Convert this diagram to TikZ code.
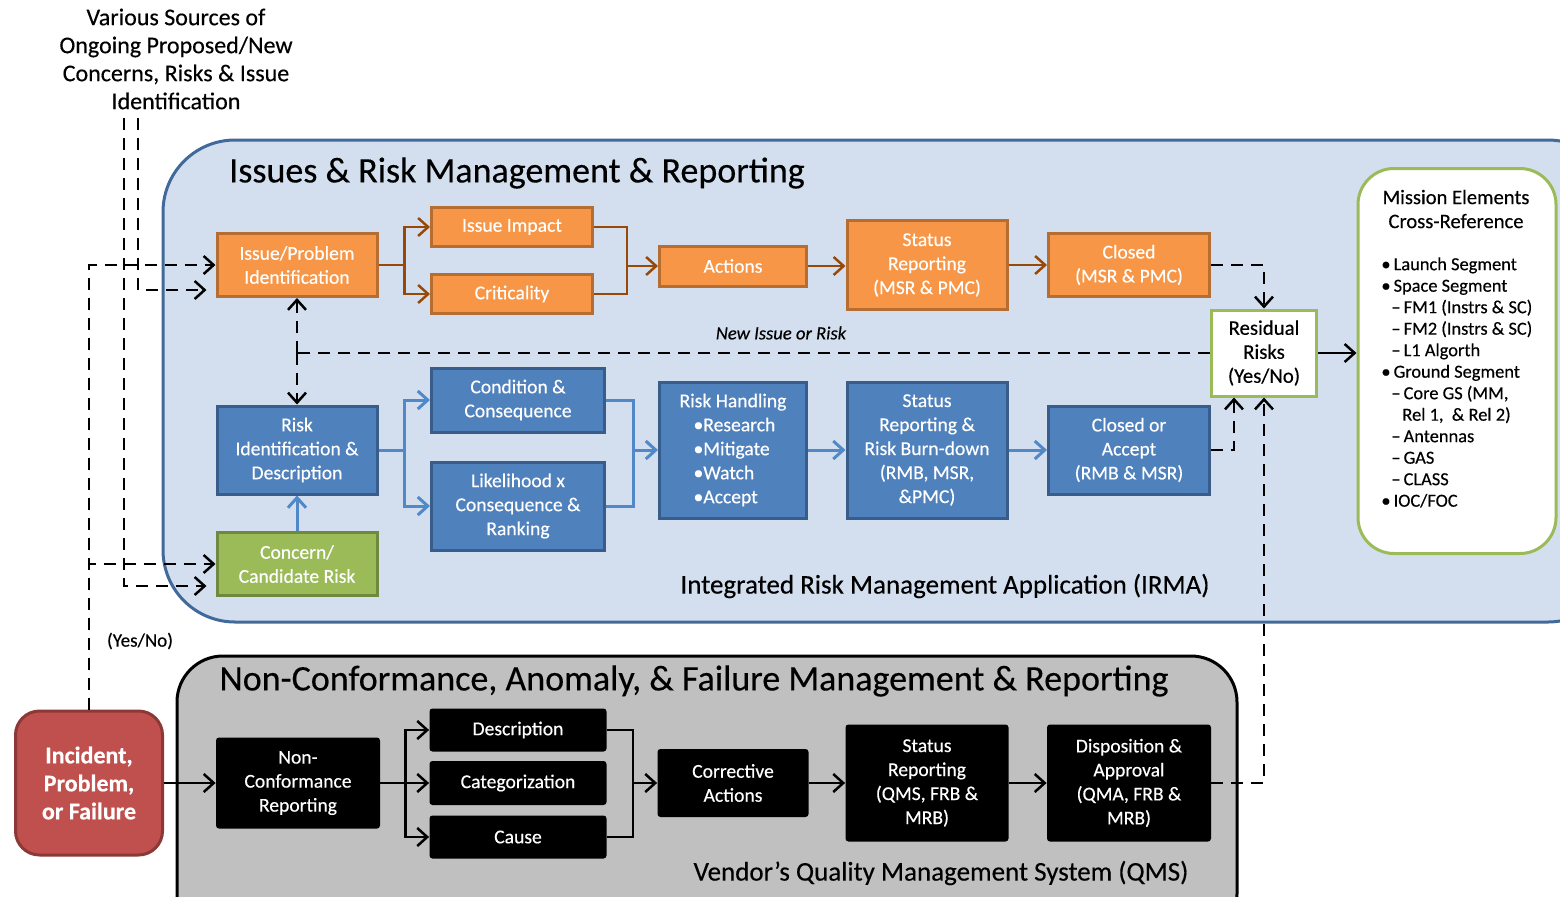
\documentclass[tikz,border=0pt]{standalone}
\usepackage{fontspec}
\setmainfont{Carlito}[FakeBold=0.35]
\usetikzlibrary{arrows.meta}
\definecolor{regionblue}{HTML}{D3DFEE}
\definecolor{regionblueline}{HTML}{41699A}
\definecolor{orangefill}{HTML}{F79646}
\definecolor{orangeedge}{HTML}{B66D31}
\definecolor{orangewire}{HTML}{984807}
\definecolor{bluefill}{HTML}{4F81BD}
\definecolor{blueedge}{HTML}{385D8A}
\definecolor{bluewire}{HTML}{5088C8}
\definecolor{greenfill}{HTML}{9BBB59}
\definecolor{greenedge}{HTML}{71893F}
\definecolor{regiongray}{HTML}{C0C0C0}
\definecolor{redfill}{HTML}{C0504D}
\definecolor{rededge}{HTML}{8C3836}
\tikzset{
	boxstyle/.style={rectangle,align=center,text=white,inner sep=1pt,font=\fontsize{9.8}{12}\selectfont},
	orangestyle/.style={boxstyle,draw=orangeedge,line width=1.5pt,fill=orangefill},
	bluestyle/.style={boxstyle,draw=blueedge,line width=1.5pt,fill=bluefill},
	greenstyle/.style={boxstyle,draw=greenedge,line width=1.5pt,fill=greenfill},
	blackstyle/.style={boxstyle,fill=black,rounded corners=1.5pt},
	residualstyle/.style={boxstyle,text=black,draw=greenfill,line width=1.5pt,fill=white,font=\fontsize{10.4}{12}\selectfont},
	tipstyle/.style={-{Straight Barb[length=5pt,width=9pt]}},
	orangeline/.style={draw=orangewire,line width=1.25pt,tipstyle},
	blueline/.style={draw=bluewire,line width=1.5pt,tipstyle},
	blackline/.style={draw=black,line width=1.25pt,tipstyle},
	dashline/.style={draw=black,line width=1.25pt,dash pattern=on 6pt off 4pt,tipstyle}
}
\begin{document}
\begin{tikzpicture}[x=0.5pt,y=-0.5pt]
	\useasboundingbox (0,0) rectangle (1560,896);
	\clip (0,0) rectangle (1560,896);
	% regions
	\draw[fill=regionblue,draw=regionblueline,line width=1.5pt,rounded corners=36pt] (163,140) rectangle (1620,622);
	\draw[fill=regiongray,draw=black,line width=1.5pt,rounded corners=23pt] (177,656) rectangle (1237,940);
	\node[font=\fontsize{18}{21}\selectfont] (t1) at (517,173) {Issues \& Risk Management \& Reporting};
	\node[font=\fontsize{18}{21}\selectfont] (t2) at (694,681) {Non-Conformance, Anomaly, \& Failure Management \& Reporting};
	\node[font=\fontsize{13.5}{16}\selectfont] (irma) at (945,586) {Integrated Risk Management Application (IRMA)};
	\node[font=\fontsize{13.5}{16}\selectfont] (qms) at (941,873) {Vendor’s Quality Management System (QMS)};
	\node[align=center,font=\fontsize{12}{14}\selectfont] (src) at (176,59) {Various Sources of\\Ongoing Proposed/New\\Concerns, Risks \& Issue\\Identification};
	% orange row
	\node[orangestyle,minimum width=80pt,minimum height=31.5pt] (ipi) at (297,265) {Issue/Problem\\Identification};
	\node[orangestyle,minimum width=80.5pt,minimum height=19.5pt] (imp) at (512,227) {Issue Impact};
	\node[orangestyle,minimum width=80.5pt,minimum height=19.5pt] (crit) at (512,294) {Criticality};
	\node[orangestyle,minimum width=73.5pt,minimum height=20pt] (act) at (733,266) {Actions};
	\node[orangestyle,minimum width=80pt,minimum height=44.5pt] (stat) at (927,265) {Status\\Reporting\\(MSR \& PMC)};
	\node[orangestyle,minimum width=80.5pt,minimum height=31.5pt] (clo) at (1129,265) {Closed\\(MSR \& PMC)};
	% blue row
	\node[bluestyle,minimum width=80pt,minimum height=44pt] (rid) at (297,450) {Risk\\Identification \&\\Description};
	\node[bluestyle,minimum width=86.5pt,minimum height=32pt] (cc) at (518,400) {Condition \&\\Consequence};
	\node[bluestyle,minimum width=86.5pt,minimum height=44pt] (lcr) at (518,506) {Likelihood x\\Consequence \&\\Ranking};
	\node[bluestyle,minimum width=73.5pt,minimum height=68pt,align=left] (rh) at (733,450) {Risk Handling\\\hspace*{7pt}•Research\\\hspace*{7pt}•Mitigate\\\hspace*{7pt}•Watch\\\hspace*{7pt}•Accept};
	\node[bluestyle,minimum width=80pt,minimum height=68pt] (srb) at (927,450) {Status\\Reporting \&\\Risk Burn-down\\(RMB, MSR,\\\&PMC)};
	\node[bluestyle,minimum width=80.5pt,minimum height=44pt] (coa) at (1129,450) {Closed or\\Accept\\(RMB \& MSR)};
	\node[greenstyle,minimum width=80pt,minimum height=31.5pt] (ccr) at (297,564) {Concern/\\Candidate Risk};
	\node[residualstyle,minimum width=52.5pt,minimum height=43pt] (res) at (1264,353) {Residual\\Risks\\(Yes/No)};
	% mission elements
	\node[draw=greenfill,line width=1.5pt,fill=white,rounded corners=18pt,minimum width=99pt,minimum height=192.5pt] (mis) at (1457,361) {};
	\node[align=center,font=\fontsize{10.3}{12}\selectfont] (mhead) at (1456,209) {Mission Elements\\Cross-Reference};
	\node[align=left,anchor=north west,inner sep=0pt,font=\fontsize{9.2}{10.75}\selectfont] (mlist) at (1381,257) {%
		•\,Launch Segment\\
		•\,Space Segment\\
		\hspace*{5pt}–\,FM1 (Instrs \& SC)\\
		\hspace*{5pt}–\,FM2 (Instrs \& SC)\\
		\hspace*{5pt}–\,L1 Algorth\\
		•\,Ground Segment\\
		\hspace*{5pt}–\,Core GS (MM,\\
		\hspace*{10.5pt}Rel 1,\ \ \& Rel 2)\\
		\hspace*{5pt}–\,Antennas\\
		\hspace*{5pt}–\,GAS\\
		\hspace*{5pt}–\,CLASS\\
		•\,IOC/FOC};
	% black row
	\node[draw=rededge,line width=1.5pt,fill=redfill,rounded corners=12pt,minimum width=73.5pt,minimum height=72pt,align=center,text=white,font=\bfseries\fontsize{12}{14}\selectfont] (inc) at (89,783) {Incident,\\Problem,\\or Failure};
	\node[blackstyle,minimum width=82pt,minimum height=45.5pt] (ncr) at (298,783) {Non-\\Conformance\\Reporting};
	\node[blackstyle,minimum width=88.5pt,minimum height=21.5pt] (des) at (518,730) {Description};
	\node[blackstyle,minimum width=88.5pt,minimum height=22pt] (cat) at (518,783) {Categorization};
	\node[blackstyle,minimum width=88.5pt,minimum height=21.5pt] (cau) at (518,837) {Cause};
	\node[blackstyle,minimum width=75.5pt,minimum height=34pt] (cor) at (733,783) {Corrective\\Actions};
	\node[blackstyle,minimum width=81.5pt,minimum height=58.5pt] (sqm) at (927,783) {Status\\Reporting\\(QMS, FRB \&\\MRB)};
	\node[blackstyle,minimum width=82pt,minimum height=58.5pt] (dis) at (1129,783) {Disposition \&\\Approval\\(QMA, FRB \&\\MRB)};
	% orange connectors
	\draw[orangeline] (ipi.east) -- ++(26,0) |- (imp.west);
	\draw[orangeline] (ipi.east) -- ++(26,0) |- (crit.west);
	\draw[orangeline,-] (imp.east) -- ++(33,0) |- (crit.east);
	\draw[orangeline] (imp.east) -- ++(33,0) |- (act.west);
	\draw[orangeline] (act.east) -- (act.east -| stat.west);
	\draw[orangeline] (stat.east) -- (stat.east -| clo.west);
	% blue connectors
	\draw[blueline] (rid.east) -- ++(26,0) |- (cc.west);
	\draw[blueline] (rid.east) -- ++(26,0) |- (lcr.west);
	\draw[blueline,-] (cc.east) -- ++(27,0) |- (lcr.east);
	\draw[blueline] (cc.east) -- ++(27,0) |- (rh.west);
	\draw[blueline] (rh.east) -- (srb.west);
	\draw[blueline] (srb.east) -- (coa.west);
	\draw[blueline] (ccr.north) -- (rid.south);
	% black connectors
	\draw[blackline] (inc.east) -- (ncr.west);
	\draw[blackline] (ncr.east) -- ++(25,0) |- (des.west);
	\draw[blackline] (ncr.east) -- (cat.west);
	\draw[blackline] (ncr.east) -- ++(25,0) |- (cau.west);
	\draw[blackline,-] (des.east) -- ++(26,0) |- (cau.east);
	\draw[blackline] (des.east) -- ++(26,0) |- (cor.west);
	\draw[blackline] (cor.east) -- (sqm.west);
	\draw[blackline] (sqm.east) -- (dis.west);
	\draw[blackline] (res.east) -- (res.east -| mis.west);
	% dashed feedback
	\draw[dashline] (clo.east) -| (res.north);
	\draw[dashline,-] (res.west) -- (res.west -| ipi.south) coordinate (nir);
	\draw[dashline] (nir) -- (ipi.south);
	\draw[dashline] (nir) -- (rid.north);
	\node[font=\itshape\fontsize{9.3}{11}\selectfont] (nlbl) at (781,333) {New Issue or Risk};
	\draw[dashline] (coa.east) -| ([xshift=-15pt]res.south);
	\draw[dashline] (dis.east) -| (res.south);
	% sources
	\coordinate (s1) at (124,118);
	\coordinate (s2) at (138,118);
	\draw[dashline] (s2) |- ([xshift=-4.5pt,yshift=-12.5pt]ipi.west);
	\draw[dashline] (s1) |- ([xshift=-4.5pt,yshift=-11pt]ccr.west);
	\draw[dashline] (inc.north) |- (ipi.west);
	\draw[dashline] (inc.north) |- (ccr.west);
	\node[font=\fontsize{9.5}{11}\selectfont] (yn) at (140,641) {(Yes/No)};
\end{tikzpicture}
\end{document}
